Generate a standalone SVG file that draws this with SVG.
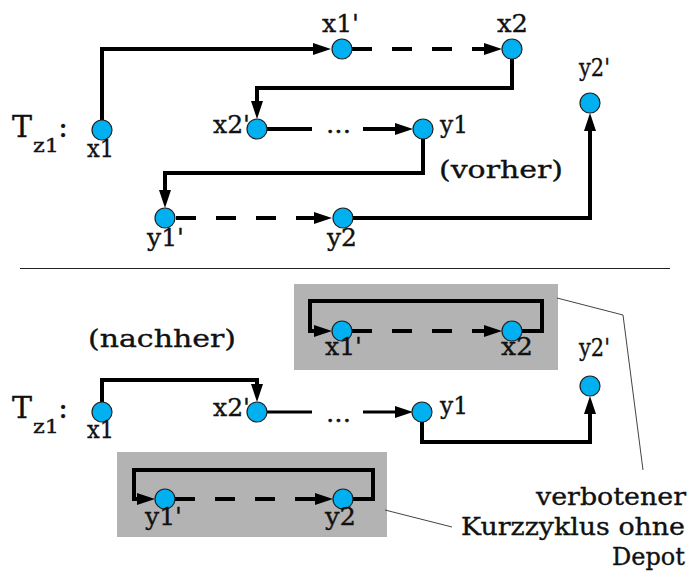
<svg xmlns="http://www.w3.org/2000/svg" width="695" height="574" viewBox="0 0 695 574">
<style>
text{font-family:"DejaVu Serif","Liberation Serif",serif;fill:#111;stroke:#111;stroke-width:0.35;}
.lb{font-size:25px;}
.big{font-size:30px;}
.sub{font-size:18px;}
.nd{fill:#00b0f0;stroke:#222;stroke-width:1.2;}
.c{fill:none;stroke:#000;stroke-width:4;}
.thin{fill:none;stroke:#000;stroke-width:3;}
.d{stroke-dasharray:20 20;}
.box{fill:#b3b3b3;}
.call{fill:none;stroke:#444;stroke-width:1;}
</style>
<defs>
<marker id="ah" markerUnits="userSpaceOnUse" markerWidth="18" markerHeight="12" refX="0" refY="6" orient="auto" viewBox="0 0 18 12">
<path d="M0,0 L18,6 L0,12 z" fill="#000"/>
</marker>
</defs>
<rect width="695" height="574" fill="#fff"/>
<g id="boxes">
<rect class="box" x="294" y="284" width="264" height="86"/>
<rect class="box" x="117" y="452" width="270" height="85"/>
</g>
<g id="separator"><path d="M20,268.5 H670" stroke="#222" stroke-width="1"/></g>
<g id="connectors">
<path class="c" d="M102,120 V49 H313" marker-end="url(#ah)"/>
<path class="c d" d="M352,49 H484" marker-end="url(#ah)"/>
<path class="c" d="M512,59 V88 H257 V101" marker-end="url(#ah)"/>
<path class="c" d="M267,129 H312"/>
<path class="c" d="M363,129 H395" marker-end="url(#ah)"/>
<path class="c" d="M423,139 V173 H165 V190" marker-end="url(#ah)"/>
<path class="c d" d="M176,218 H314" marker-end="url(#ah)"/>
<path class="c" d="M353,218 H590 V131" marker-end="url(#ah)"/>
<path class="c" d="M102,402 V380 H257 V384" marker-end="url(#ah)"/>
<path class="thin" d="M267,412 H312"/>
<path class="thin" d="M363,412 H395" marker-end="url(#ah)"/>
<path class="c" d="M422,422 V442 H590 V414" marker-end="url(#ah)"/>
<path class="c d" d="M352,331 H484" marker-end="url(#ah)"/>
<path class="c" d="M522,331 H542 V301 H310 V331 H314" marker-end="url(#ah)"/>
<path class="c d" d="M175,499 H315" marker-end="url(#ah)"/>
<path class="c" d="M353,499 H373 V470 H134 V499 H137" marker-end="url(#ah)"/>
<path class="call" d="M557,298 L623,315 L643,470"/>
<path class="call" d="M385,510 L452,527"/>
</g>
<g id="top-x1"><circle class="nd" cx="102" cy="130" r="10"/><text class="lb" x="87" y="157" textLength="27" lengthAdjust="spacingAndGlyphs">x1</text></g>
<g id="top-x1p"><circle class="nd" cx="342" cy="49" r="10"/><text class="lb" x="322" y="32" textLength="37" lengthAdjust="spacingAndGlyphs">x1'</text></g>
<g id="top-x2"><circle class="nd" cx="512" cy="49" r="10"/><text class="lb" x="497" y="32" textLength="31" lengthAdjust="spacingAndGlyphs">x2</text></g>
<g id="top-x2p"><circle class="nd" cx="257" cy="129" r="10"/><text class="lb" x="213" y="133" textLength="37" lengthAdjust="spacingAndGlyphs">x2'</text></g>
<g id="top-y1"><circle class="nd" cx="423" cy="129" r="10"/><text class="lb" x="440" y="133" textLength="28" lengthAdjust="spacingAndGlyphs">y1</text></g>
<g id="top-y1p"><circle class="nd" cx="165" cy="218" r="10"/><text class="lb" x="147" y="246" textLength="37" lengthAdjust="spacingAndGlyphs">y1'</text></g>
<g id="top-y2"><circle class="nd" cx="343" cy="218" r="10"/><text class="lb" x="327" y="246" textLength="30" lengthAdjust="spacingAndGlyphs">y2</text></g>
<g id="top-y2p"><circle class="nd" cx="590" cy="103" r="10"/><text class="lb" x="579" y="76" textLength="31" lengthAdjust="spacingAndGlyphs">y2'</text></g>
<g id="top-labels">
<text class="big" x="12" y="137">T</text><text class="sub" x="33" y="152" textLength="26" lengthAdjust="spacingAndGlyphs">z1</text><text class="big" x="58" y="137">:</text>
<text class="lb" x="326" y="133" textLength="25" lengthAdjust="spacingAndGlyphs">...</text>
<text class="lb" x="439" y="178" textLength="124" lengthAdjust="spacingAndGlyphs">(vorher)</text>
</g>
<g id="bot-x1"><circle class="nd" cx="102" cy="412" r="10"/><text class="lb" x="87" y="438" textLength="27" lengthAdjust="spacingAndGlyphs">x1</text></g>
<g id="bot-x2p"><circle class="nd" cx="257" cy="412" r="10"/><text class="lb" x="213" y="416" textLength="37" lengthAdjust="spacingAndGlyphs">x2'</text></g>
<g id="bot-y1"><circle class="nd" cx="422" cy="412" r="10"/><text class="lb" x="440" y="414" textLength="28" lengthAdjust="spacingAndGlyphs">y1</text></g>
<g id="bot-y2p"><circle class="nd" cx="590" cy="386" r="10"/><text class="lb" x="579" y="356" textLength="31" lengthAdjust="spacingAndGlyphs">y2'</text></g>
<g id="bot-x1p"><circle class="nd" cx="342" cy="331" r="10"/><text class="lb" x="325" y="355" textLength="37" lengthAdjust="spacingAndGlyphs">x1'</text></g>
<g id="bot-x2"><circle class="nd" cx="512" cy="331" r="10"/><text class="lb" x="501" y="355" textLength="32" lengthAdjust="spacingAndGlyphs">x2</text></g>
<g id="bot-y1p"><circle class="nd" cx="165" cy="499" r="10"/><text class="lb" x="145" y="525" textLength="37" lengthAdjust="spacingAndGlyphs">y1'</text></g>
<g id="bot-y2"><circle class="nd" cx="343" cy="499" r="10"/><text class="lb" x="325" y="525" textLength="31" lengthAdjust="spacingAndGlyphs">y2</text></g>
<g id="bot-labels">
<text class="big" x="12" y="418">T</text><text class="sub" x="33" y="433" textLength="26" lengthAdjust="spacingAndGlyphs">z1</text><text class="big" x="58" y="418">:</text>
<text class="lb" x="326" y="422" textLength="25" lengthAdjust="spacingAndGlyphs">...</text>
<text class="lb" x="88" y="347" textLength="148" lengthAdjust="spacingAndGlyphs">(nachher)</text>
<text class="lb" x="686" y="505" text-anchor="end" textLength="150" lengthAdjust="spacingAndGlyphs">verbotener</text>
<text class="lb" x="685" y="535" text-anchor="end" textLength="224" lengthAdjust="spacingAndGlyphs">Kurzzyklus ohne</text>
<text class="lb" x="685" y="565" text-anchor="end" textLength="73" lengthAdjust="spacingAndGlyphs">Depot</text>
</g>
</svg>
